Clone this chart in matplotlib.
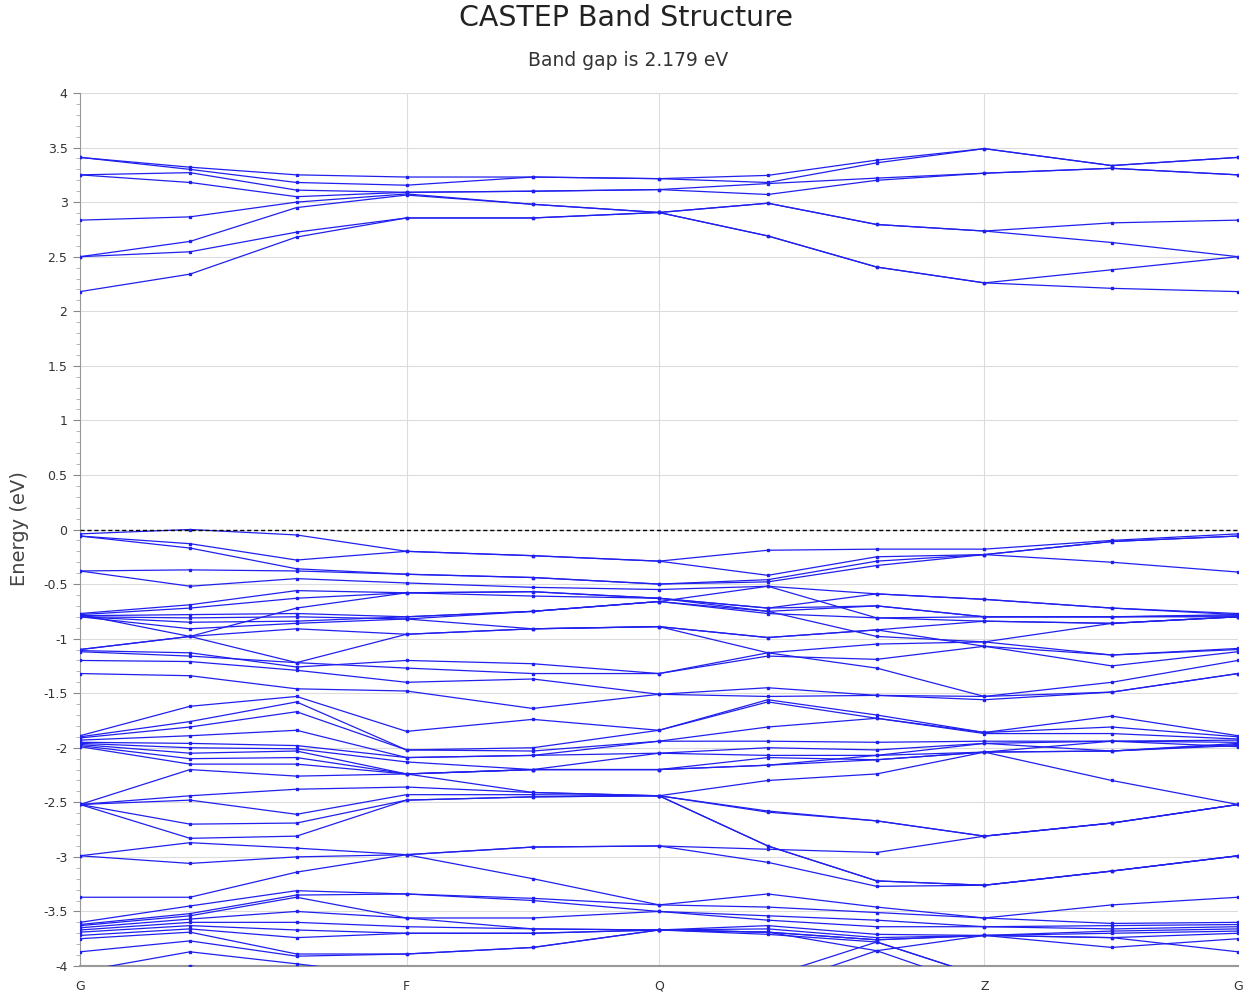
import matplotlib
matplotlib.use("Agg")
import matplotlib.pyplot as plt
import numpy as np

# k-path distances (fraction of total path) and high-symmetry labels
kdist = [0.0, 0.095, 0.187, 0.282, 0.391, 0.500, 0.594, 0.688, 0.781, 0.891, 1.0]
sym_pos = [0.0, 0.282, 0.500, 0.781, 1.0]
sym_labels = ["G", "F", "Q", "Z", "G"]

# conduction bands (eV)
cond_bands = [
    [2.18, 2.34, 2.68, 2.855, 2.855, 2.905, 2.69, 2.405, 2.26, 2.21, 2.18],
    [2.50, 2.545, 2.725, 2.855, 2.855, 2.905, 2.69, 2.405, 2.26, 2.38, 2.50],
    [2.50, 2.64, 2.95, 3.065, 2.98, 2.905, 2.99, 2.795, 2.735, 2.63, 2.50],
    [2.835, 2.865, 3.00, 3.075, 2.98, 2.905, 2.99, 2.795, 2.735, 2.81, 2.835],
    [3.25, 3.18, 3.05, 3.09, 3.10, 3.115, 3.07, 3.20, 3.265, 3.31, 3.25],
    [3.25, 3.27, 3.11, 3.09, 3.10, 3.115, 3.17, 3.22, 3.265, 3.31, 3.25],
    [3.41, 3.30, 3.18, 3.155, 3.23, 3.215, 3.18, 3.36, 3.49, 3.335, 3.41],
    [3.41, 3.32, 3.25, 3.23, 3.23, 3.215, 3.245, 3.385, 3.49, 3.335, 3.41],
]

# valence bands (eV)
val_bands = [
    [-0.04, 0.00, -0.05, -0.20, -0.24, -0.29, -0.19, -0.18, -0.18, -0.10, -0.04],
    [-0.06, -0.13, -0.28, -0.20, -0.24, -0.29, -0.42, -0.25, -0.23, -0.11, -0.06],
    [-0.06, -0.17, -0.36, -0.41, -0.44, -0.50, -0.46, -0.29, -0.23, -0.11, -0.06],
    [-0.38, -0.37, -0.38, -0.41, -0.44, -0.50, -0.48, -0.33, -0.23, -0.30, -0.39],
    [-0.38, -0.52, -0.45, -0.49, -0.53, -0.55, -0.52, -0.59, -0.64, -0.72, -0.77],
    [-0.77, -0.69, -0.56, -0.58, -0.57, -0.63, -0.72, -0.59, -0.64, -0.72, -0.78],
    [-0.78, -0.72, -0.63, -0.58, -0.61, -0.63, -0.75, -0.70, -0.80, -0.80, -0.79],
    [-0.79, -0.78, -0.77, -0.80, -0.75, -0.66, -0.52, -0.81, -0.80, -0.80, -0.80],
    [-0.80, -0.81, -0.80, -0.82, -0.75, -0.66, -0.77, -0.81, -0.84, -0.86, -0.80],
    [-0.78, -0.98, -1.22, -0.96, -0.91, -0.89, -0.99, -0.92, -0.84, -0.86, -0.80],
    [-1.10, -0.98, -0.72, -0.58, -0.57, -0.63, -0.72, -0.70, -0.80, -0.80, -0.78],
    [-0.80, -0.85, -0.84, -0.80, -0.75, -0.66, -0.75, -0.98, -1.03, -1.15, -1.10],
    [-0.80, -0.91, -0.86, -0.82, -0.91, -0.89, -1.13, -1.05, -1.03, -0.86, -0.80],
    [-1.10, -0.98, -0.91, -0.96, -0.91, -0.89, -0.99, -0.92, -1.07, -1.15, -1.09],
    [-1.11, -1.13, -1.26, -1.20, -1.23, -1.32, -1.16, -1.19, -1.07, -1.25, -1.12],
    [-1.12, -1.16, -1.22, -1.27, -1.32, -1.32, -1.13, -1.27, -1.53, -1.40, -1.20],
    [-1.20, -1.21, -1.29, -1.40, -1.37, -1.51, -1.45, -1.52, -1.56, -1.49, -1.32],
    [-1.32, -1.34, -1.46, -1.48, -1.64, -1.51, -1.53, -1.52, -1.53, -1.49, -1.32],
    [-1.89, -1.62, -1.53, -1.85, -1.74, -1.84, -1.56, -1.70, -1.86, -1.71, -1.89],
    [-1.90, -1.76, -1.58, -2.02, -2.00, -1.84, -1.58, -1.73, -1.86, -1.81, -1.90],
    [-1.91, -1.81, -1.67, -2.02, -2.03, -1.94, -1.81, -1.73, -1.87, -1.87, -1.92],
    [-1.93, -1.89, -1.84, -2.09, -2.07, -1.94, -1.94, -1.95, -1.94, -1.94, -1.93],
    [-1.95, -1.96, -1.98, -2.09, -2.07, -2.05, -2.00, -2.02, -1.96, -1.94, -1.95],
    [-1.96, -2.00, -2.01, -2.13, -2.20, -2.05, -2.07, -2.07, -1.96, -2.03, -1.96],
    [-1.97, -2.05, -2.03, -2.24, -2.20, -2.20, -2.09, -2.11, -2.04, -2.03, -1.97],
    [-1.98, -2.10, -2.09, -2.24, -2.20, -2.20, -2.16, -2.07, -2.04, -2.03, -1.98],
    [-1.99, -2.15, -2.15, -2.24, -2.20, -2.20, -2.16, -2.11, -2.04, -1.94, -1.99],
    [-2.52, -2.20, -2.26, -2.24, -2.41, -2.44, -2.30, -2.24, -2.04, -2.30, -2.52],
    [-2.52, -2.44, -2.38, -2.36, -2.41, -2.44, -2.58, -2.67, -2.81, -2.69, -2.52],
    [-2.52, -2.48, -2.61, -2.43, -2.43, -2.44, -2.59, -2.67, -2.81, -2.69, -2.52],
    [-2.52, -2.70, -2.69, -2.48, -2.45, -2.44, -2.90, -3.22, -3.26, -3.13, -2.99],
    [-2.52, -2.83, -2.81, -2.48, -2.45, -2.44, -2.90, -3.22, -3.26, -3.13, -2.99],
    [-2.99, -2.87, -2.92, -2.98, -2.91, -2.90, -2.93, -2.96, -2.81, -2.69, -2.52],
    [-2.99, -3.06, -3.00, -2.98, -2.91, -2.90, -3.05, -3.27, -3.26, -3.13, -2.99],
    [-3.37, -3.37, -3.14, -2.98, -3.20, -3.44, -3.34, -3.46, -3.56, -3.44, -3.37],
    [-3.60, -3.45, -3.31, -3.34, -3.38, -3.44, -3.46, -3.51, -3.56, -3.61, -3.60],
    [-3.62, -3.52, -3.35, -3.34, -3.40, -3.50, -3.54, -3.58, -3.64, -3.63, -3.62],
    [-3.63, -3.54, -3.37, -3.56, -3.56, -3.50, -3.58, -3.64, -3.64, -3.66, -3.64],
    [-3.65, -3.57, -3.50, -3.56, -3.66, -3.67, -3.63, -3.71, -3.72, -3.68, -3.66],
    [-3.67, -3.60, -3.60, -3.64, -3.66, -3.67, -3.66, -3.74, -3.72, -3.70, -3.68],
    [-3.69, -3.63, -3.67, -3.70, -3.70, -3.67, -3.69, -3.76, -3.72, -3.74, -3.70],
    [-3.72, -3.66, -3.74, -3.70, -3.70, -3.67, -3.69, -3.86, -3.72, -3.83, -3.75],
    [-3.75, -3.69, -3.89, -3.89, -3.83, -3.67, -3.69, -3.76, -3.72, -3.74, -3.87],
    [-3.87, -3.77, -3.91, -3.89, -3.83, -3.67, -3.71, -3.78, -4.10, -4.20, -4.10],
    [-4.05, -3.87, -3.98, -4.10, -4.20, -4.30, -4.10, -3.78, -4.10, -4.20, -4.10],
    [-4.20, -4.00, -4.10, -4.20, -4.30, -4.40, -4.20, -3.86, -4.20, -4.30, -4.20],
]

title = "CASTEP Band Structure"
subtitle = "Band gap is 2.179 eV"
ylabel = "Energy (eV)"

W, H = 1248, 998
fig = plt.figure(figsize=(W / 100, H / 100), dpi=100)
ax = fig.add_axes([80 / W, 1 - 966 / H, (1238 - 80) / W, (966 - 93) / H])

line_color = "#2020ee"
for band in cond_bands + val_bands:
    ax.plot(kdist, band, color=line_color, lw=0.9, marker="s", ms=1.8,
            mec=line_color, mfc=line_color, clip_on=True, zorder=3)

ax.axhline(0, color="black", lw=1.0, ls=(0, (3, 2)), zorder=4)

ax.set_xlim(0, 1)
ax.set_ylim(-4, 4)
ax.set_xticks(sym_pos)
ax.set_xticklabels(sym_labels)
yt = np.arange(-4, 4.01, 0.5)
ax.set_yticks(yt)
ax.set_yticklabels([f"{v:g}" for v in yt])
ax.set_yticks(np.arange(-4, 4.01, 0.1), minor=True)
ax.tick_params(axis="y", which="major", length=5, color="#888888", labelsize=9, labelcolor="#333333", pad=4)
ax.tick_params(axis="y", which="minor", length=3, color="#aaaaaa")
ax.tick_params(axis="x", length=0, labelsize=9, labelcolor="#333333", pad=10)

ax.grid(True, which="major", color="#dcdcdc", lw=0.8, zorder=0)
for s in ["top", "right"]:
    ax.spines[s].set_visible(False)
ax.spines["left"].set_color("#999999")
ax.spines["bottom"].set_color("#999999")
ax.spines["bottom"].set_linewidth(1.5)

fig.text(626 / W, 1 - 18 / H, title, ha="center", va="center", fontsize=20.5, color="#222222",
         family="DejaVu Sans")
fig.text(628 / W, 1 - 61 / H, subtitle, ha="center", va="center", fontsize=13.5, color="#333333",
         family="DejaVu Sans")
fig.text(20 / W, 1 - 529 / H, ylabel, ha="center", va="center", rotation=90, fontsize=14,
         color="#444444", family="DejaVu Sans")

fig.savefig("out.png", dpi=100)
